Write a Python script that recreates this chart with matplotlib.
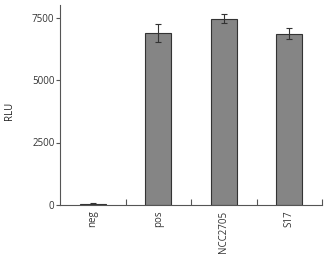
import matplotlib
matplotlib.use("Agg")
import matplotlib.pyplot as plt
import numpy as np

categories = ["neg", "pos", "NCC2705", "S17"]
rlu = [50, 6890, 7460, 6860]
rlu_err = [30, 360, 190, 220]

plt.rcParams["font.family"] = ["Open Sans", "DejaVu Sans"]
plt.rcParams["font.size"] = 7

fig = plt.figure(figsize=(3.3, 2.56), dpi=100)
ax = fig.add_axes([60 / 330, 1 - 205 / 256, 262 / 330, 200 / 256])

x = np.arange(len(categories))
ax.bar(x, rlu, width=0.4, color="#858585", edgecolor="#333333", linewidth=0.8,
       yerr=rlu_err, error_kw=dict(ecolor="#333333", elinewidth=0.8, capsize=2.5, capthick=0.8))

ax.set_xlim(-0.5, len(categories) - 0.5)
ax.set_ylim(0, 8000)
ax.set_yticks([0, 2500, 5000, 7500])
ax.set_xticks(x)
ax.set_xticklabels(categories, rotation=90)
ax.set_xticks(np.arange(len(categories)) + 0.5, minor=True)
ax.tick_params(axis="x", which="major", length=0, pad=4, colors="#333333")
ax.tick_params(axis="x", which="minor", direction="in", length=4, width=0.8, color="#555555")
ax.tick_params(axis="y", direction="out", length=3, width=0.8, color="#555555", labelcolor="#333333", pad=1)
ax.set_ylabel("RLU", color="#222222")
ax.yaxis.set_label_coords(-0.17, 0.47)

for side in ["top", "right"]:
    ax.spines[side].set_visible(False)
for side in ["left", "bottom"]:
    ax.spines[side].set_color("#555555")
    ax.spines[side].set_linewidth(0.8)

fig.savefig("out.png", dpi=100)
